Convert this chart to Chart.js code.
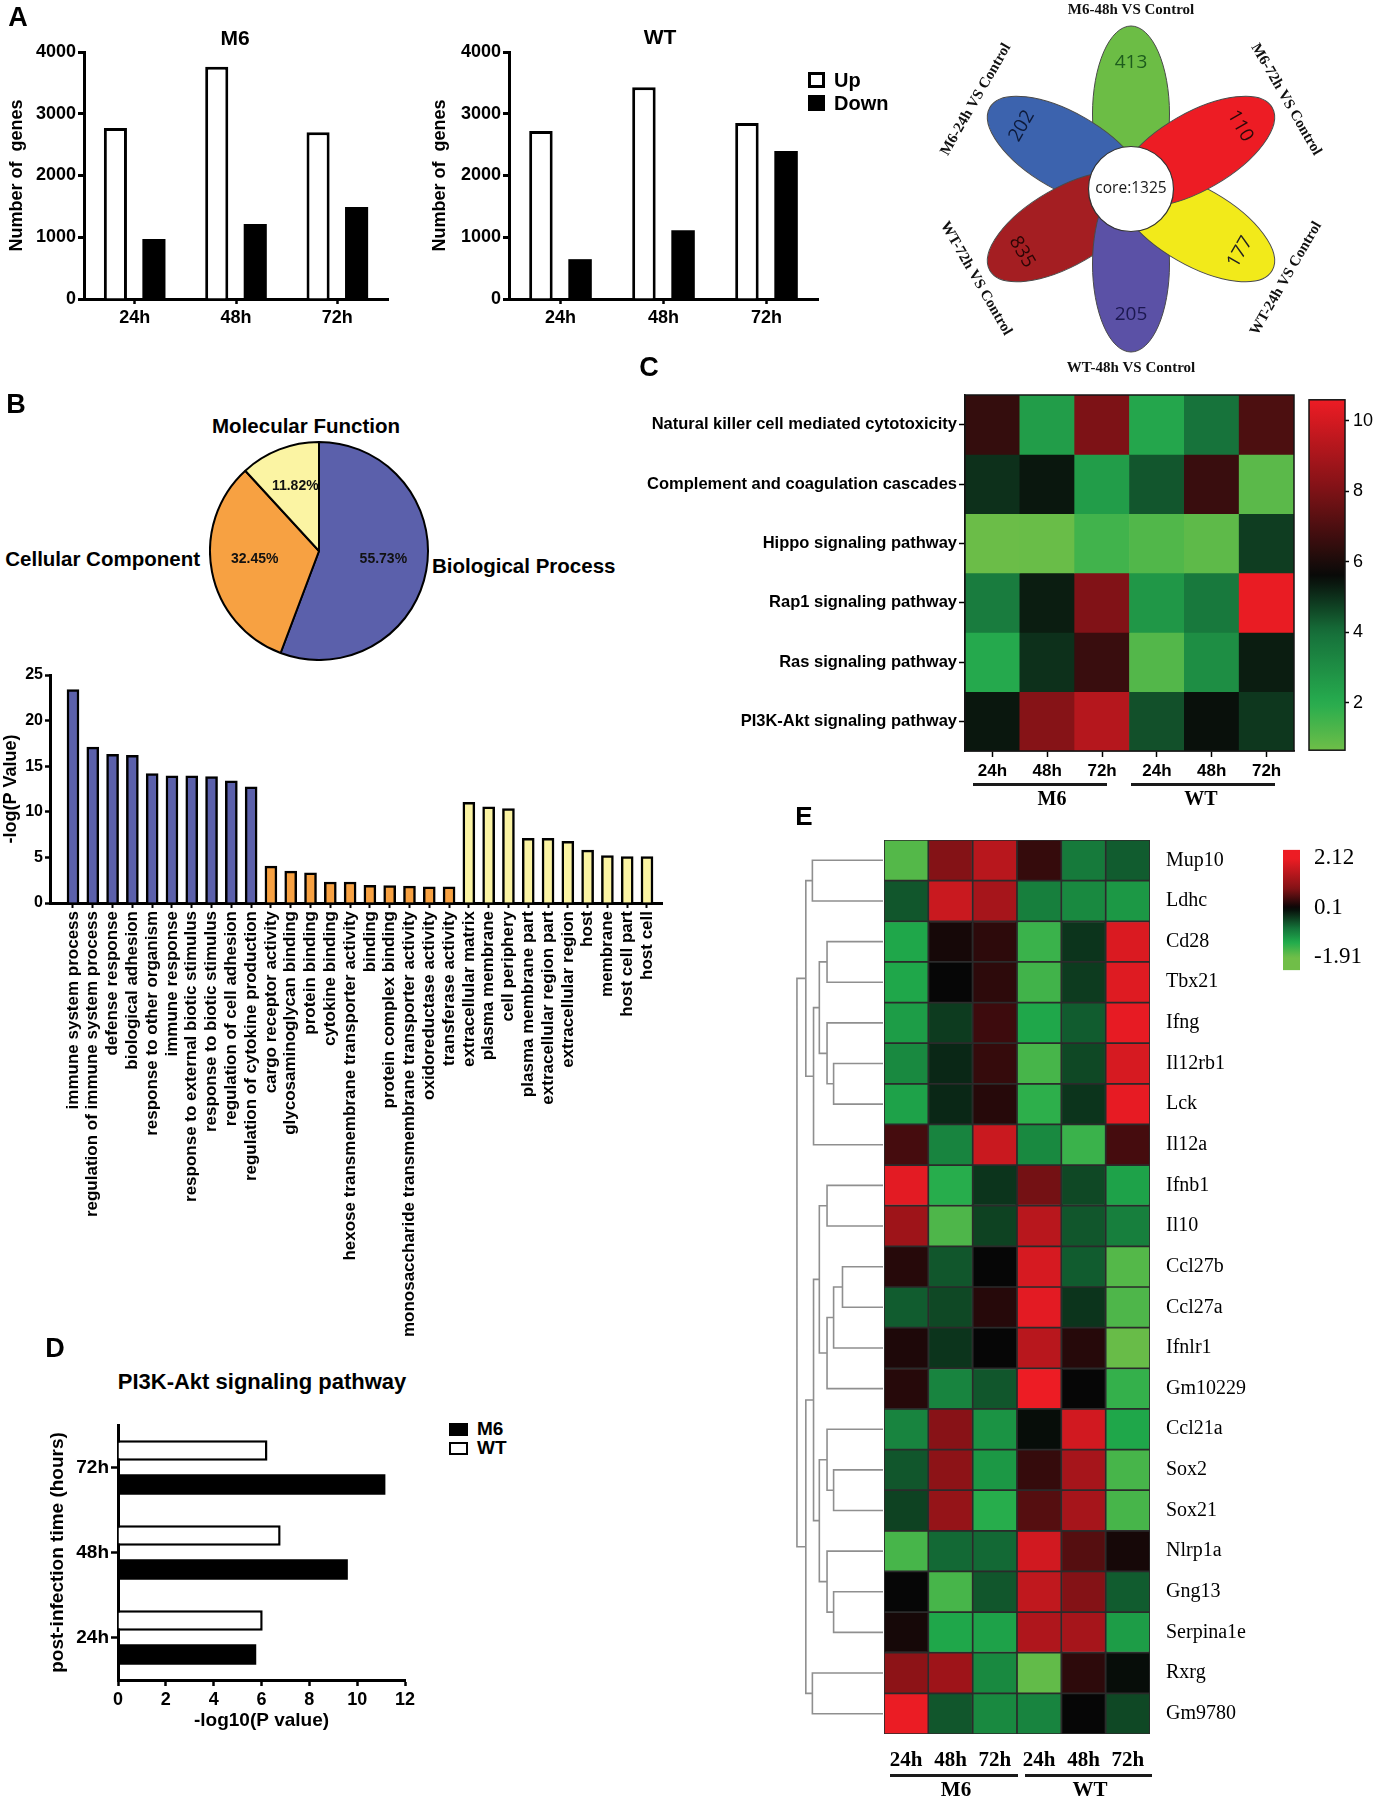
<!DOCTYPE html>
<html><head><meta charset="utf-8">
<script src="https://cdn.jsdelivr.net/npm/chart.js@4.4.1/dist/chart.umd.js"></script>
<style>
html,body{margin:0;padding:0;background:#fff;}
#root{position:relative;width:1398px;height:1797px;overflow:hidden;background:#fff;}
canvas{position:absolute;}
.t{position:absolute;white-space:pre;line-height:1.15;color:#000;}
.ln{position:absolute;background:#1a1a1a;}
.bx{position:absolute;box-sizing:border-box;}
</style></head><body><div id="root"></div>
<script>
// ================= DATA =================
// Panel A – differentially expressed genes
const timeLabels = ['24h', '48h', '72h'];
const m6Up   = [2770, 3760, 2700];
const m6Down = [970, 1215, 1490];
const wtUp   = [2720, 3430, 2850];
const wtDown = [645, 1115, 2395];

// Panel A – flower plot
const petalLabels = ['M6-48h VS Control', 'M6-72h VS Control', 'WT-24h VS Control', 'WT-48h VS Control', 'WT-72h VS Control', 'M6-24h VS Control'];
const petalCounts = [413, 110, 177, 205, 835, 202];
const petalColors = ['#6cbd45', '#ed1c24', '#f2ea1a', '#5b51a6', '#a41e22', '#3c63ae'];
const petalNumColors = ['#1d5c1d', '#2a0808', '#222222', '#1c1850', '#2a0505', '#0d1a3a'];
const coreCount = 1325;

// Panel B – GO pie
const goCategories = ['Biological Process', 'Cellular Component', 'Molecular Function'];
const goShares = [55.73, 32.45, 11.82];
const goColors = ['#5b60ab', '#f7a142', '#fbf4a3'];

// Panel B – GO terms
const bpTerms = ['immune system process', 'regulation of immune system process', 'defense response', 'biological adhesion', 'response to other organism', 'immune response', 'response to external biotic stimulus', 'response to biotic stimulus', 'regulation of cell adhesion', 'regulation of cytokine production'];
const bpValues = [23.4, 17.1, 16.3, 16.2, 14.2, 13.95, 13.95, 13.85, 13.4, 12.75];
const mfTerms = ['cargo receptor activity', 'glycosaminoglycan binding', 'protein binding', 'cytokine binding', 'hexose transmembrane transporter activity', 'binding', 'protein complex binding', 'monosaccharide transmembrane transporter activity', 'oxidoreductase activity', 'transferase activity'];
const mfValues = [4.05, 3.5, 3.3, 2.3, 2.3, 1.95, 1.9, 1.85, 1.77, 1.77];
const ccTerms = ['extracellular matrix', 'plasma membrane', 'cell periphery', 'plasma membrane part', 'extracellular region part', 'extracellular region', 'host', 'membrane', 'host cell part', 'host cell'];
const ccValues = [11.05, 10.55, 10.35, 7.1, 7.1, 6.75, 5.8, 5.2, 5.1, 5.1];

// Panel C – KEGG heatmap
const pathways = ['Natural killer cell mediated cytotoxicity', 'Complement and coagulation cascades', 'Hippo signaling pathway', 'Rap1 signaling pathway', 'Ras signaling pathway', 'PI3K-Akt signaling pathway'];
const heatCols = ['24h', '48h', '72h', '24h', '48h', '72h'];
const heatGroups = ['M6', 'WT'];
const pathwayScores = [
  [6.5, 2.5, 8.0, 2.2, 3.9, 7.0],
  [5.0, 5.4, 2.5, 4.4, 6.6, 1.0],
  [0.7, 0.75, 1.5, 1.2, 0.95, 4.8],
  [3.6, 5.3, 8.1, 2.7, 3.7, 10.5],
  [2.1, 5.0, 6.6, 1.15, 3.0, 5.3],
  [5.4, 8.2, 9.3, 4.5, 5.5, 4.9]
];
const cbarCMin = 0.65, cbarCMax = 10.6;

// Panel D – PI3K-Akt
const dTimes = ['72h', '48h', '24h'];
const dM6 = [11.18, 9.61, 5.78];
const dWT = [6.25, 6.8, 6.05];

// Panel E – gene heatmap
const genes = ['Mup10', 'Ldhc', 'Cd28', 'Tbx21', 'Ifng', 'Il12rb1', 'Lck', 'Il12a', 'Ifnb1', 'Il10', 'Ccl27b', 'Ccl27a', 'Ifnlr1', 'Gm10229', 'Ccl21a', 'Sox2', 'Sox21', 'Nlrp1a', 'Gng13', 'Serpina1e', 'Rxrg', 'Gm9780'];
const geneScores = [
  [-1.7, 0.9, 1.5, 0.4, -0.8, -0.55],
  [-0.5, 1.7, 1.3, -0.85, -0.95, -1.1],
  [-1.25, 0.2, 0.35, -1.5, -0.25, 1.9],
  [-1.25, 0.1, 0.35, -1.55, -0.3, 1.95],
  [-1.15, -0.3, 0.45, -1.25, -0.55, 2.05],
  [-0.95, -0.15, 0.4, -1.6, -0.4, 1.85],
  [-1.2, -0.15, 0.3, -1.4, -0.25, 2.05],
  [0.5, -0.9, 1.7, -0.95, -1.5, 0.5],
  [2.0, -1.35, -0.25, 0.8, -0.4, -1.2],
  [1.2, -1.65, -0.35, 1.5, -0.5, -0.85],
  [0.3, -0.5, 0.1, 1.85, -0.55, -1.7],
  [-0.55, -0.4, 0.3, 2.0, -0.25, -1.65],
  [0.25, -0.25, 0.1, 1.5, 0.3, -1.85],
  [0.3, -0.9, -0.5, 2.12, 0.1, -1.45],
  [-0.9, 0.95, -1.05, 0.05, 1.8, -1.25],
  [-0.5, 1.0, -1.1, 0.4, 1.3, -1.6],
  [-0.35, 1.1, -1.35, 0.6, 1.3, -1.6],
  [-1.6, -0.65, -0.65, 1.8, 0.6, 0.2],
  [0.1, -1.6, -0.5, 1.6, 0.9, -0.55],
  [0.2, -1.25, -1.2, 1.4, 1.3, -1.15],
  [1.0, 1.2, -0.95, -1.8, 0.35, 0.05],
  [2.1, -0.5, -0.95, -0.9, 0.1, -0.4]
];
// dendrogram merges: [childA, childB, height]; leaves 0..21, merge k creates node 22+k
const geneMerges = [
  [0, 1, 183], [2, 3, 145], [5, 6, 128], [4, 24, 145], [23, 25, 165], [26, 7, 180], [22, 27, 200],
  [8, 9, 145], [10, 11, 105], [30, 12, 128], [31, 13, 145], [29, 32, 165],
  [15, 16, 128], [14, 34, 145], [18, 19, 128], [17, 36, 145], [35, 37, 165], [33, 38, 180],
  [20, 21, 183], [39, 40, 200], [28, 41, 223]
];
const eTickValues = [2.12, 0.1, -1.91];
const cbarEMin = -2.43, cbarEMax = 2.47;

// ================= HELPERS =================
const SANS = '"Liberation Sans", Arial, Helvetica, sans-serif';
const SERIF = '"Liberation Serif", "Times New Roman", Times, serif';
const ROUND = '"Open Sans", "Noto Sans", sans-serif';
Chart.defaults.font.family = SANS;
Chart.defaults.color = '#000';
Chart.defaults.animation = false;
Chart.defaults.plugins.legend.display = false;
Chart.defaults.plugins.tooltip.enabled = false;

const root = document.getElementById('root');
function canvasAt(l, t, w, h) {
  const c = document.createElement('canvas');
  c.width = w; c.height = h;
  c.style.left = l + 'px'; c.style.top = t + 'px';
  c.style.width = w + 'px'; c.style.height = h + 'px';
  root.appendChild(c);
  return c;
}
function txt(s, x, y, o = {}) {
  const d = document.createElement('div');
  d.className = 't';
  d.textContent = s;
  d.style.font = `${o.weight || 'bold'} ${o.size || 16}px ${o.family || SANS}`;
  d.style.left = x + 'px'; d.style.top = y + 'px';
  const ax = o.align === 'left' ? '0' : o.align === 'right' ? '-100%' : '-50%';
  d.style.transform = `translate(${ax},-50%) rotate(${o.rot || 0}deg)`;
  if (o.color) d.style.color = o.color;
  root.appendChild(d);
  return d;
}
function hline(x0, x1, y, th) {
  const d = document.createElement('div'); d.className = 'ln';
  d.style.left = x0 + 'px'; d.style.top = (y - th / 2) + 'px';
  d.style.width = (x1 - x0) + 'px'; d.style.height = th + 'px';
  root.appendChild(d);
}
function box(x, y, w, h, fill, border) {
  const d = document.createElement('div'); d.className = 'bx';
  d.style.left = x + 'px'; d.style.top = y + 'px'; d.style.width = w + 'px'; d.style.height = h + 'px';
  d.style.background = fill; if (border) d.style.border = border;
  root.appendChild(d);
}
function makeCmap(stops) {
  return v => {
    if (v <= stops[0][0]) return `rgb(${stops[0][1].join(',')})`;
    const last = stops[stops.length - 1];
    if (v >= last[0]) return `rgb(${last[1].join(',')})`;
    for (let k = 0; k < stops.length - 1; k++) {
      const [a, ca] = stops[k], [b, cb] = stops[k + 1];
      if (v >= a && v <= b) {
        const t = (v - a) / (b - a);
        const c = ca.map((x, j) => Math.round(x + (cb[j] - x) * t));
        return `rgb(${c.join(',')})`;
      }
    }
  };
}
const cmapC = makeCmap([[0.65, [110, 190, 72]], [2, [38, 172, 78]], [4, [22, 112, 58]], [5.6, [8, 10, 8]], [8, [125, 18, 22]], [10.6, [237, 28, 36]]]);
const cmapE = makeCmap([[-1.91, [112, 190, 72]], [-1.3, [32, 172, 76]], [-0.7, [20, 112, 56]], [0.1, [6, 6, 6]], [0.9, [132, 18, 22]], [2.12, [237, 28, 36]]]);
function gradFn(cmap, lo, hi) {
  return (ctx) => {
    const ch = ctx.chart, a = ch.chartArea;
    if (!a) return '#000';
    const g = ch.ctx.createLinearGradient(0, a.bottom, 0, a.top);
    for (let k = 0; k <= 40; k++) { const t = k / 40; g.addColorStop(t, cmap(lo + (hi - lo) * t)); }
    return g;
  };
}
const fitW = w => (s => { s.width = w; });
const fitH = h => (s => { s.height = h; });
const axisBorder = { display: true, color: '#000', width: 3 };
const gridTicks = (len, w) => ({ display: true, drawOnChartArea: false, drawTicks: true, tickLength: len, tickWidth: w, tickColor: '#000', offset: false });
const framePlugin = { id: 'frame', afterDatasetsDraw(chart) {
  const a = chart.chartArea, ctx = chart.ctx; ctx.save(); ctx.lineWidth = 1.5; ctx.strokeStyle = '#151515';
  ctx.strokeRect(a.left, a.top, a.right - a.left, a.bottom - a.top); ctx.restore(); } };

// ================= PANEL A: bar charts =================
function geneBars(left, top, w, h, area, up, down, titlePad) {
  new Chart(canvasAt(left, top, w, h), {
    type: 'bar',
    data: { labels: timeLabels, datasets: [
      { label: 'Up', data: up, backgroundColor: '#fff', borderColor: '#000', borderWidth: 3, categoryPercentage: 0.76, barPercentage: 0.6 },
      { label: 'Down', data: down, backgroundColor: '#000', borderWidth: 0, categoryPercentage: 0.76, barPercentage: 0.6 }
    ] },
    options: {
      responsive: false, devicePixelRatio: 1,
      layout: { padding: { left: 0, top: area.y0 - top, right: left + w - area.x1, bottom: 0 } },
      scales: {
        x: { ticks: { font: { size: 18, weight: 'bold' }, padding: 3 }, grid: gridTicks(5, 2.5), border: axisBorder, afterFit: fitH(top + h - area.y1) },
        y: { min: 0, max: 4000, ticks: { stepSize: 1000, font: { size: 18, weight: 'bold' }, padding: 2, callback: v => String(v) },
             grid: gridTicks(6, 3), border: axisBorder, afterFit: fitW(area.x0 - left),
             title: { display: true, text: 'Number of  genes', font: { size: 18, weight: 'bold' }, padding: { top: titlePad, bottom: 0 } } }
      }
    }
  });
}
geneBars(0, 30, 400, 310, { x0: 84, x1: 388, y0: 52, y1: 299 }, m6Up, m6Down, 6);
geneBars(420, 30, 400, 310, { x0: 509, x1: 818, y0: 52, y1: 299 }, wtUp, wtDown, 9);
txt('A', 18, 17, { size: 27 });
txt('M6', 235, 38, { size: 21 });
txt('WT', 660, 37, { size: 21 });
box(808, 72, 17, 16, '#fff', '3px solid #000');
box(808, 95, 17, 16, '#000');
txt('Up', 834, 80, { size: 20, align: 'left' });
txt('Down', 834, 103, { size: 20, align: 'left' });

// ================= PANEL A: flower =================
const PETAL_D = 75, PETAL_A = 88, PETAL_B = 38.5, CORE_R = 42.5, NUM_R = 126, LAB_R = 179;
const petalAngle = i => 90 - 60 * i;
function textRot(a) { let r = ((90 - a) % 360 + 360) % 360; while (r > 90) r -= 180; return r; }
function drawRot(ctx, s, x, y, rot, font, color) {
  ctx.save(); ctx.translate(x, y); ctx.rotate(rot * Math.PI / 180);
  ctx.font = font; ctx.fillStyle = color; ctx.textAlign = 'center'; ctx.textBaseline = 'middle';
  ctx.fillText(s, 0, 0); ctx.restore();
}
const flowerPlugin = { id: 'flower', afterDatasetsDraw(chart) {
  const ctx = chart.ctx, xs = chart.scales.x, ys = chart.scales.y, pts = chart.getDatasetMeta(0).data;
  const cx = xs.getPixelForValue(0), cy = ys.getPixelForValue(0);
  const ux = xs.getPixelForValue(1) - cx;
  ctx.save();
  [0, 5, 4, 3, 2, 1].forEach(i => {
    const th = petalAngle(i) * Math.PI / 180;
    ctx.save(); ctx.translate(pts[i].x, pts[i].y); ctx.rotate(-th);
    ctx.beginPath(); ctx.ellipse(0, 0, PETAL_A * ux, PETAL_B * ux, 0, 0, Math.PI * 2);
    ctx.fillStyle = petalColors[i]; ctx.fill();
    ctx.lineWidth = 1; ctx.strokeStyle = '#4a4a4a'; ctx.stroke(); ctx.restore();
  });
  ctx.beginPath(); ctx.arc(cx, cy, CORE_R * ux, 0, Math.PI * 2);
  ctx.fillStyle = '#fff'; ctx.fill(); ctx.lineWidth = 1.2; ctx.strokeStyle = '#333'; ctx.stroke();
  drawRot(ctx, 'core:' + coreCount, cx, cy, 0, `15.5px ${ROUND}`, '#1a1a1a');
  petalCounts.forEach((n, i) => {
    const a = petalAngle(i), th = a * Math.PI / 180;
    drawRot(ctx, String(n), xs.getPixelForValue(NUM_R * Math.cos(th)), ys.getPixelForValue(NUM_R * Math.sin(th)), textRot(a), `19px ${ROUND}`, petalNumColors[i]);
    drawRot(ctx, petalLabels[i], xs.getPixelForValue(LAB_R * Math.cos(th)), ys.getPixelForValue(LAB_R * Math.sin(th)), textRot(a), `bold 15px ${SERIF}`, '#111');
  });
  ctx.restore();
} };
new Chart(canvasAt(930, 0, 468, 380), {
  type: 'scatter',
  data: { datasets: [{ data: petalCounts.map((_, i) => ({ x: PETAL_D * Math.cos(petalAngle(i) * Math.PI / 180), y: PETAL_D * Math.sin(petalAngle(i) * Math.PI / 180) })), pointRadius: 0 }] },
  options: { responsive: false, devicePixelRatio: 1, layout: { padding: 0 },
    scales: { x: { type: 'linear', min: -201, max: 267, display: false }, y: { type: 'linear', min: -191, max: 189, display: false } } },
  plugins: [flowerPlugin]
});

// ================= PANEL B: pie =================
const pieText = { id: 'pieText', afterDatasetsDraw(chart) {
  const ctx = chart.ctx, meta = chart.getDatasetMeta(0);
  ctx.save(); ctx.font = `bold 14px ${SANS}`; ctx.fillStyle = '#111'; ctx.textAlign = 'center'; ctx.textBaseline = 'middle';
  meta.data.forEach((arc, i) => {
    const p = arc.getProps(['x', 'y', 'startAngle', 'endAngle', 'outerRadius']);
    const m = (p.startAngle + p.endAngle) / 2, r = p.outerRadius * 0.6;
    ctx.fillText(goShares[i].toFixed(2) + '%', p.x + Math.cos(m) * r, p.y + Math.sin(m) * r - 4);
  });
  ctx.restore();
} };
new Chart(canvasAt(209, 441, 220, 220), {
  type: 'pie',
  data: { labels: goCategories, datasets: [{ data: goShares, backgroundColor: goColors, borderColor: '#000', borderWidth: 2 }] },
  options: { responsive: false, devicePixelRatio: 1, layout: { padding: 0 } },
  plugins: [pieText]
});
txt('B', 16, 404, { size: 27 });
txt(goCategories[2], 306, 426, { size: 20.5 });
txt(goCategories[1], 200, 559, { size: 20.5, align: 'right' });
txt(goCategories[0], 432, 566, { size: 20.5, align: 'left' });

// ================= PANEL B: GO bars =================
const goTerms = bpTerms.concat(mfTerms, ccTerms);
const goValues = bpValues.concat(mfValues, ccValues);
const goBarColors = [].concat(bpTerms.map(() => goColors[0]), mfTerms.map(() => goColors[1]), ccTerms.map(() => goColors[2]));
new Chart(canvasAt(0, 660, 680, 690), {
  type: 'bar',
  data: { datasets: [{ data: goValues.map((v, i) => ({ x: i, y: v })), backgroundColor: goBarColors, borderColor: '#000', borderWidth: 2.5, barThickness: 12 }] },
  options: { responsive: false, devicePixelRatio: 1,
    layout: { padding: { left: 0, top: 15, right: 18, bottom: 0 } },
    scales: {
      x: { type: 'linear', offset: false, min: -1.162, max: 29.758,
           afterBuildTicks: s => { s.ticks = goTerms.map((_, i) => ({ value: i })); },
           ticks: { autoSkip: false, minRotation: 90, maxRotation: 90, font: { size: 17, weight: 'bold' }, padding: 3, callback: (v, i) => goTerms[i] },
           grid: gridTicks(5, 2), border: axisBorder, afterFit: fitH(447) },
      y: { min: 0, max: 25, ticks: { stepSize: 5, font: { size: 16, weight: 'bold' }, padding: 2 },
           grid: gridTicks(5, 2.5), border: axisBorder, afterFit: fitW(50),
           title: { display: true, text: '-log(P Value)', font: { size: 18, weight: 'bold' }, padding: { top: 0, bottom: 0 } } }
    }
  }
});

// ================= PANEL C: heatmap =================
new Chart(canvasAt(560, 380, 750, 440), {
  type: 'bar',
  data: { labels: heatCols, datasets: pathways.map((p, r) => ({ label: p, data: heatCols.map(() => [r, r + 1]), backgroundColor: pathwayScores[r].map(cmapC), borderWidth: 0, barPercentage: 1, categoryPercentage: 1, grouped: false })) },
  options: { responsive: false, devicePixelRatio: 1,
    layout: { padding: { left: 0, top: 15, right: 16, bottom: 0 } },
    scales: {
      x: { ticks: { font: { size: 17, weight: 'bold' }, padding: 4 }, grid: gridTicks(6, 1.5), border: { display: true, color: '#111', width: 1.5 }, afterFit: fitH(69) },
      y: { type: 'linear', min: 0, max: 6, reverse: true,
           afterBuildTicks: s => { s.ticks = pathways.map((_, i) => ({ value: i + 0.5 })); },
           ticks: { autoSkip: false, font: { size: 16.5, weight: 'bold' }, padding: 2, callback: (v, i) => pathways[i] },
           grid: gridTicks(6, 1.5), border: { display: true, color: '#111', width: 1.5 }, afterFit: fitW(405) }
    }
  },
  plugins: [framePlugin]
});
new Chart(canvasAt(1300, 385, 98, 380), {
  type: 'bar',
  data: { labels: [''], datasets: [{ data: [[cbarCMin, cbarCMax]], backgroundColor: gradFn(cmapC, cbarCMin, cbarCMax), borderWidth: 0, barPercentage: 1, categoryPercentage: 1 }] },
  options: { responsive: false, devicePixelRatio: 1,
    layout: { padding: { left: 9, top: 12, right: 0, bottom: 13 } },
    scales: {
      x: { display: false },
      y: { position: 'right', min: cbarCMin, max: cbarCMax, ticks: { stepSize: 2, includeBounds: false, font: { size: 18, weight: 'normal' }, padding: 4 },
           grid: gridTicks(4, 1.5), border: { display: false }, afterFit: fitW(53) }
    }
  },
  plugins: [framePlugin]
});
txt('C', 649, 367, { size: 27 });
hline(973, 1107, 784, 3);
hline(1131, 1275, 784, 3);
txt(heatGroups[0], 1052, 798, { size: 20, family: SERIF });
txt(heatGroups[1], 1201, 798, { size: 20, family: SERIF });

// ================= PANEL D =================
new Chart(canvasAt(0, 1400, 420, 340), {
  type: 'bar',
  data: { labels: dTimes, datasets: [
    { label: 'WT', data: dWT, backgroundColor: '#fff', borderColor: '#000', borderWidth: 2.5, categoryPercentage: 0.8, barPercentage: 0.6 },
    { label: 'M6', data: dM6, backgroundColor: '#000', borderWidth: 0, categoryPercentage: 0.8, barPercentage: 0.6 }
  ] },
  options: { responsive: false, devicePixelRatio: 1, indexAxis: 'y',
    layout: { padding: { left: 0, top: 25, right: 15, bottom: 0 } },
    scales: {
      x: { min: 0, max: 12, ticks: { stepSize: 2, font: { size: 18, weight: 'bold' }, padding: 3 }, grid: gridTicks(6, 2.5), border: axisBorder, afterFit: fitH(60),
           title: { display: true, text: '-log10(P value)', font: { size: 19, weight: 'bold' }, padding: { top: 0, bottom: 8 } } },
      y: { ticks: { font: { size: 19, weight: 'bold' }, padding: 2 }, grid: gridTicks(7, 2.5), border: axisBorder, afterFit: fitW(118),
           title: { display: true, text: 'post-infection time (hours)', font: { size: 19, weight: 'bold' }, padding: { top: 46, bottom: 0 } } }
    }
  }
});
txt('D', 55, 1348, { size: 27 });
txt('PI3K-Akt signaling pathway', 262, 1382, { size: 22 });
box(449, 1423, 19, 13, '#000');
box(449, 1442, 19, 13, '#fff', '2.5px solid #000');
txt('M6', 477, 1429, { size: 19, align: 'left' });
txt('WT', 477, 1448, { size: 19, align: 'left' });

// ================= PANEL E =================
function dendroPoints() {
  const pos = [], ht = [], pts = [];
  genes.forEach((g, i) => { pos[i] = i + 0.5; ht[i] = 0; });
  geneMerges.forEach(([a, b, h], k) => {
    const id = genes.length + k;
    pos[id] = (pos[a] + pos[b]) / 2; ht[id] = h;
    pts.push({ x: ht[a], y: pos[a] }, { x: h, y: pos[a] }, { x: h, y: pos[b] }, { x: ht[b], y: pos[b] }, { x: null, y: null });
  });
  return pts;
}
new Chart(canvasAt(790, 840, 93, 894), {
  type: 'scatter',
  data: { datasets: [{ data: dendroPoints(), showLine: true, spanGaps: false, borderColor: '#8f8f8f', borderWidth: 1.6, pointRadius: 0, fill: false }] },
  options: { responsive: false, devicePixelRatio: 1, layout: { padding: 0 },
    scales: { x: { type: 'linear', min: 0, max: 241, reverse: true, display: false }, y: { type: 'linear', min: 0, max: 22, reverse: true, display: false } } }
});
new Chart(canvasAt(880, 820, 400, 977), {
  type: 'bar',
  data: { labels: heatCols, datasets: genes.map((g, r) => ({ label: g, data: heatCols.map(() => [r, r + 1]), backgroundColor: geneScores[r].map(cmapE), borderColor: '#2b2b2b', borderWidth: 1.2, borderSkipped: false, barPercentage: 1, categoryPercentage: 1, grouped: false })) },
  options: { responsive: false, devicePixelRatio: 1,
    layout: { padding: { left: 4, top: 20, right: 0, bottom: 0 } },
    scales: {
      x: { ticks: { font: { size: 21, weight: 'bold', family: SERIF }, padding: 6 }, grid: { display: false }, border: { display: false }, afterFit: fitH(63) },
      y: { type: 'linear', position: 'right', min: 0, max: 22, reverse: true,
           afterBuildTicks: s => { s.ticks = genes.map((_, i) => ({ value: i + 0.5 })); },
           ticks: { autoSkip: false, font: { size: 20, weight: 'normal', family: SERIF }, padding: 8, callback: (v, i) => genes[i] },
           grid: { display: false }, border: { display: false }, afterFit: fitW(130) }
    }
  }
});
new Chart(canvasAt(1270, 830, 110, 160), {
  type: 'bar',
  data: { labels: [''], datasets: [{ data: [[cbarEMin, cbarEMax]], backgroundColor: gradFn(cmapE, cbarEMin, cbarEMax), borderWidth: 0, barPercentage: 1, categoryPercentage: 1 }] },
  options: { responsive: false, devicePixelRatio: 1,
    layout: { padding: { left: 13, top: 10, right: 0, bottom: 18 } },
    scales: {
      x: { display: false },
      y: { position: 'right', min: cbarEMin, max: cbarEMax,
           afterBuildTicks: s => { s.ticks = eTickValues.map(v => ({ value: v })); },
           ticks: { autoSkip: false, font: { size: 23, weight: 'normal', family: SERIF }, padding: 6, callback: (v, i) => String(eTickValues[i]) },
           grid: { display: false }, border: { display: false }, afterFit: fitW(80) }
    }
  }
});
txt('E', 804, 816, { size: 26 });
hline(890, 1018, 1775, 3);
hline(1025, 1152, 1775, 3);
txt(heatGroups[0], 956, 1789, { size: 21, family: SERIF });
txt(heatGroups[1], 1090, 1789, { size: 21, family: SERIF });
</script></body></html>
